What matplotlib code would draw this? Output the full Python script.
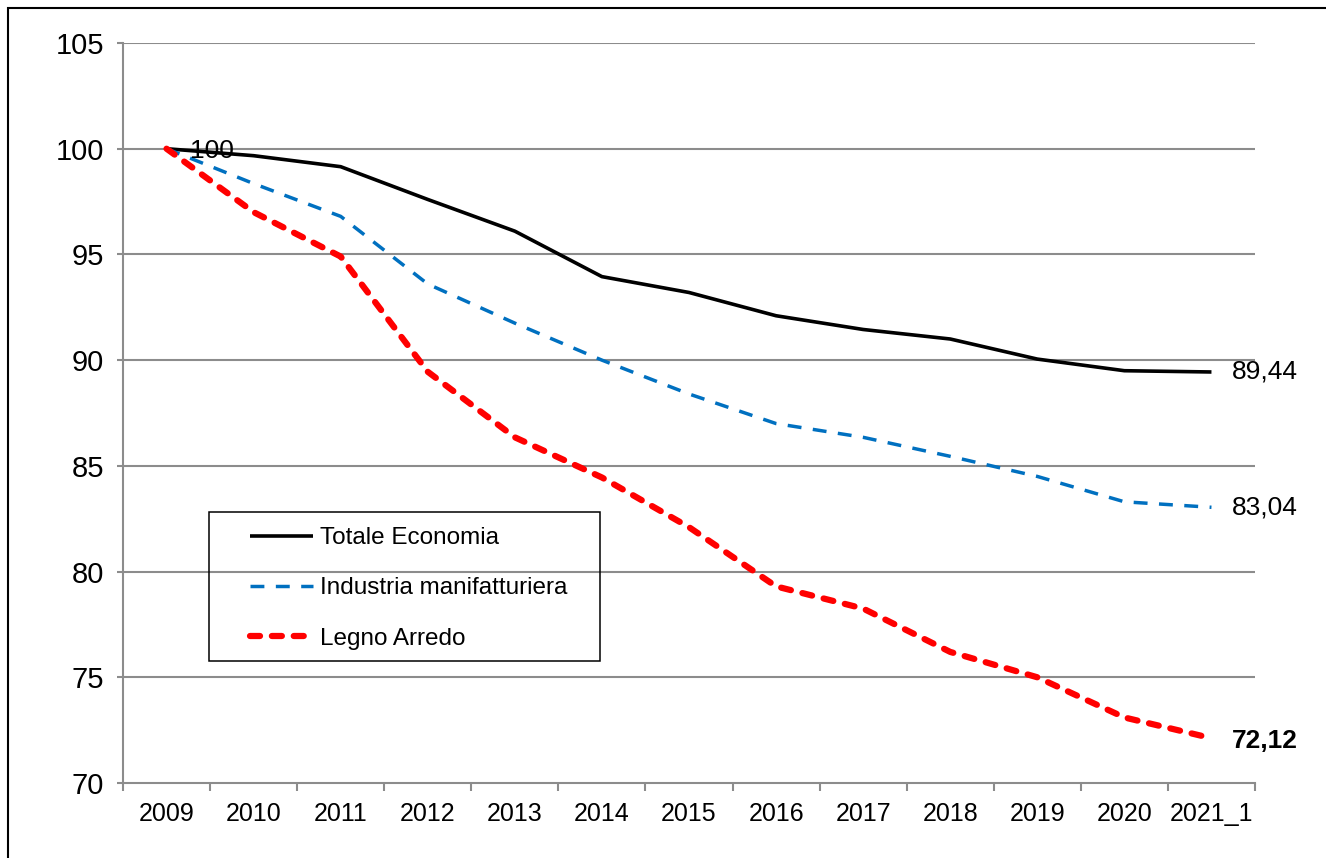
import matplotlib
matplotlib.use('Agg')
import matplotlib.pyplot as plt
from matplotlib.patches import Rectangle
from matplotlib.ticker import FixedLocator, NullFormatter

plt.rcParams['font.family'] = ['Liberation Sans Narrow', 'Liberation Sans', 'DejaVu Sans']

anni = ['2009', '2010', '2011', '2012', '2013', '2014', '2015',
        '2016', '2017', '2018', '2019', '2020', '2021_1']
totale = [100, 99.67, 99.15, 97.6, 96.1, 93.95, 93.2, 92.1, 91.45, 91.0, 90.05, 89.5, 89.44]
industria = [100, 98.35, 96.8, 93.6, 91.75, 90.0, 88.4, 87.0, 86.35, 85.45, 84.5, 83.3, 83.04]
legno = [100, 97.0, 94.9, 89.45, 86.35, 84.45, 82.1, 79.3, 78.25, 76.2, 75.0, 73.1, 72.12]

grid_col = '#8c8c8c'
W, H = 1326, 858

fig = plt.figure(figsize=(W / 100, H / 100), dpi=100)
ax = fig.add_axes([123/W, 1 - 783/H, (1255-123)/W, (783-43)/H])
aw, ah = 1255 - 123, 783 - 43

x = list(range(len(anni)))

# gridlines
for v in [75, 80, 85, 90, 95, 100, 105]:
    ax.axhline(v, color=grid_col, lw=1.5, zorder=1)

ax.plot(x, totale, color='black', lw=2.6, solid_capstyle='butt', zorder=3,
        label='Totale Economia')
ax.plot(x, industria, color='#0070c0', lw=2.5, dashes=(4.0, 3.3),
        dash_capstyle='butt', zorder=3, label='Industria manifatturiera')
ax.plot(x, legno, color='#ff0000', lw=4.5, dashes=(1.6, 1.9),
        dash_capstyle='round', zorder=4, label='Legno Arredo')

ax.set_xlim(-0.5, len(anni) - 0.5)
ax.set_ylim(70, 105)
ax.set_yticks([70, 75, 80, 85, 90, 95, 100, 105])

ax.xaxis.set_major_locator(FixedLocator([i - 0.5 for i in range(len(anni) + 1)]))
ax.xaxis.set_major_formatter(NullFormatter())
ax.xaxis.set_minor_locator(FixedLocator(x))
ax.set_xticklabels(anni, minor=True)
ax.tick_params(axis='x', which='major', length=6, width=1.5, color=grid_col)
ax.tick_params(axis='x', which='minor', length=0, pad=14, labelsize=18)
ax.tick_params(axis='y', length=4.5, width=1.5, color=grid_col, pad=9, labelsize=21)

for s in ['top', 'right']:
    ax.spines[s].set_visible(False)
for s in ['left', 'bottom']:
    ax.spines[s].set_color(grid_col)
    ax.spines[s].set_linewidth(1.5)

# data labels
ax.annotate('100', (x[0], totale[0]), xytext=(17, -1.5), textcoords='offset points',
            va='center', ha='left', fontsize=19)
ax.annotate('89,44', (x[-1], totale[-1]), xytext=(15, 0), textcoords='offset points',
            va='center', ha='left', fontsize=19)
ax.annotate('83,04', (x[-1], industria[-1]), xytext=(15, 0), textcoords='offset points',
            va='center', ha='left', fontsize=19)
ax.annotate('72,12', (x[-1], legno[-1]), xytext=(15, -2), textcoords='offset points',
            va='center', ha='left', fontsize=19, fontweight='bold')

# legend: entries placed without frame, box drawn separately (transparent)
leg = ax.legend(loc='upper left', bbox_to_anchor=((250-123)/aw, (783-527)/ah),
                fontsize=17.5, frameon=False, handlelength=2.6, handletextpad=0.3,
                labelspacing=1.17, borderpad=0, borderaxespad=0)
ax.add_patch(Rectangle(((209-123)/aw, (783-661)/ah), 391/aw, 149/ah,
                       transform=ax.transAxes, fill=False, edgecolor='black',
                       lw=1.1, zorder=5, clip_on=False))

# outer border (cut at right and bottom like the reference)
fig.add_artist(Rectangle((8/W, -0.1), 2, 1 - 8/H + 0.1, transform=fig.transFigure,
                         fill=False, edgecolor='black', lw=1.5))

fig.savefig('out.png', dpi=100)
